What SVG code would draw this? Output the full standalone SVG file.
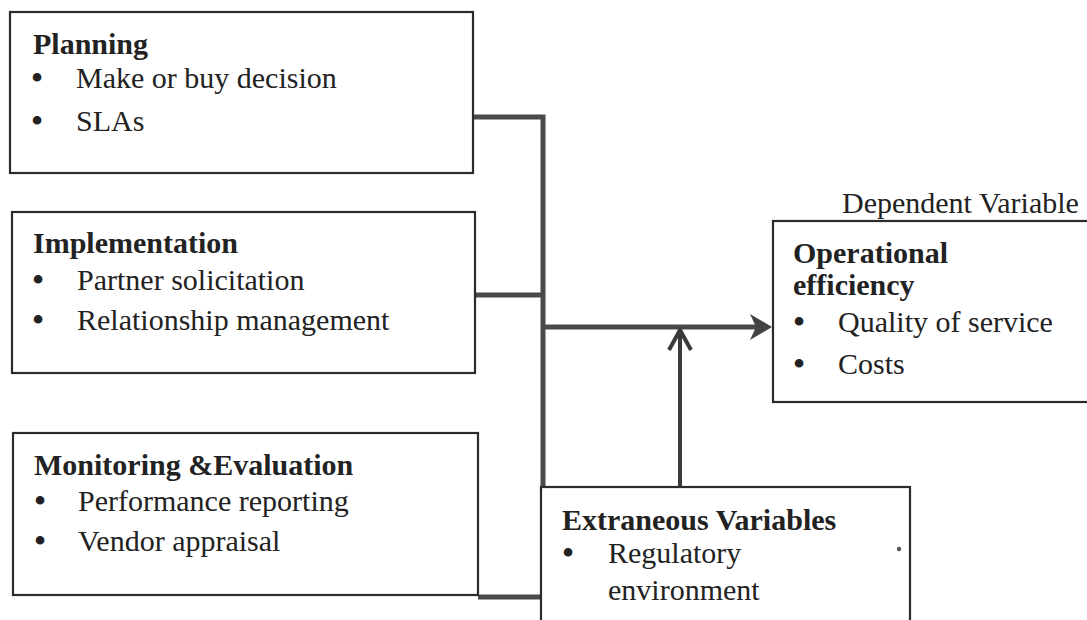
<svg xmlns="http://www.w3.org/2000/svg" width="1087" height="620" viewBox="0 0 1087 620">
<style>
.box{fill:#fff;stroke:#2b2b2b;stroke-width:2.2}
.t{font-family:"Liberation Serif","Times New Roman",serif;font-size:30px;fill:#222}
.b{font-weight:bold}
.bul{font-family:"Liberation Serif","Times New Roman",serif;font-size:36px;fill:#222;text-anchor:middle}
.con{fill:none;stroke:#4a4a4a;stroke-width:5}
.thin{fill:none;stroke:#3a3a3a;stroke-width:4}
</style>
<defs>
<marker id="ahFilled" markerUnits="userSpaceOnUse" markerWidth="24" markerHeight="28" viewBox="0 0 24 28" refX="6" refY="14" orient="auto">
<path d="M0,1 L22,14 L0,27 L6,14 Z" fill="#444"/>
</marker>
<marker id="ahOpen" markerUnits="userSpaceOnUse" markerWidth="26" markerHeight="28" viewBox="0 0 26 28" refX="22" refY="14" orient="auto">
<path d="M2,3 L22,14 L2,25" fill="none" stroke="#3a3a3a" stroke-width="4"/>
</marker>
</defs>
<rect width="1087" height="620" fill="#fff"/>

<g id="connectors">
<path class="con" d="M473,117 H543 V508"/>
<path class="con" d="M475,295 H543"/>
<path class="con" d="M478,597 H541"/>
<path class="con" d="M543,327 H756" marker-end="url(#ahFilled)"/>
<path class="thin" d="M680,487 V330" marker-end="url(#ahOpen)"/>
</g>

<g id="planning">
<rect class="box" x="10" y="12" width="463" height="161"/>
<text class="t b" x="33" y="54">Planning</text>
<text class="bul" x="37" y="90">•</text>
<text class="t" x="76" y="88">Make or buy decision</text>
<text class="bul" x="37" y="133">•</text>
<text class="t" x="76" y="131">SLAs</text>
</g>

<g id="implementation">
<rect class="box" x="12" y="212" width="463" height="161"/>
<text class="t b" x="33" y="253">Implementation</text>
<text class="bul" x="38" y="292">•</text>
<text class="t" x="77" y="290">Partner solicitation</text>
<text class="bul" x="38" y="332">•</text>
<text class="t" x="77" y="330">Relationship management</text>
</g>

<g id="monitoring">
<rect class="box" x="13" y="433" width="465" height="162"/>
<text class="t b" x="34" y="475">Monitoring &amp;Evaluation</text>
<text class="bul" x="40" y="513">•</text>
<text class="t" x="78" y="511">Performance reporting</text>
<text class="bul" x="40" y="553">•</text>
<text class="t" x="78" y="551">Vendor appraisal</text>
</g>

<g id="operational">
<text class="t" x="842" y="213">Dependent Variable</text>
<rect class="box" x="773" y="221" width="330" height="181"/>
<text class="t b" x="793" y="263">Operational</text>
<text class="t b" x="793" y="295">efficiency</text>
<text class="bul" x="799" y="334">•</text>
<text class="t" x="838" y="332">Quality of service</text>
<text class="bul" x="799" y="376">•</text>
<text class="t" x="838" y="374">Costs</text>
</g>

<g id="extraneous">
<rect class="box" x="541" y="487" width="369" height="145"/>
<text class="t b" x="562" y="530">Extraneous Variables</text>
<text class="bul" x="568" y="565">•</text>
<text class="t" x="608" y="563">Regulatory</text>
<text class="t" x="608" y="600">environment</text>
<circle cx="899" cy="549" r="2.2" fill="#555"/>
</g>
</svg>
